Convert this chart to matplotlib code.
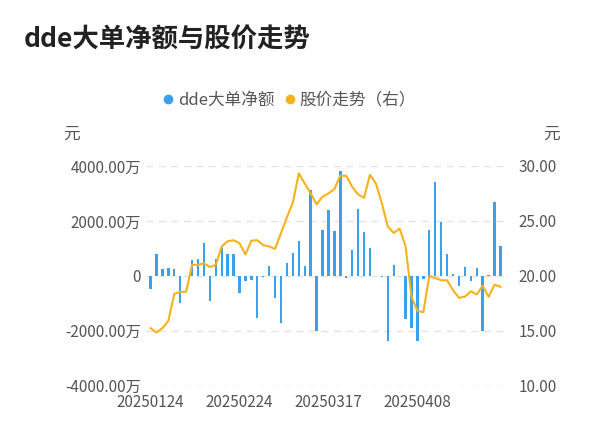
import matplotlib
matplotlib.use("Agg")
import matplotlib.pyplot as plt
from matplotlib.ticker import FixedLocator
from matplotlib.lines import Line2D

plt.rcParams['font.family'] = ['Noto Sans CJK SC', 'DejaVu Sans']

dde = [-480, 810, 240, 300, 240, -970, -20, 580, 630, 1210, -930, 600, 1000, 790, 800,
       -630, -200, -150, -1550, -30, 350, -810, -1700, 450, 820, 1260, 350, 3130, -2000, 1670,
       2390, 1640, 3820, -60, 950, 2450, 1580, 1030, -20, -40, -2360, 390, 0, -1580, -1910,
       -2360, -120, 1660, 3420, 1960, 800, 60, -360, 340, -200, 270, -2010, 40, 2690, 1090]
price = [15.24, 14.85, 15.24, 15.9, 18.36, 18.55, 18.55, 21.0, 21.0, 21.15, 20.8, 21.0, 22.67, 23.15, 23.24,
         22.97, 21.94, 23.2, 23.24, 22.8, 22.67, 22.45, 23.9, 25.33, 26.67, 29.33, 28.4, 27.5, 26.5, 27.2,
         27.5, 27.9, 29.1, 29.1, 28.1, 27.4, 27.1, 29.2, 28.4, 26.6, 24.5, 23.9, 24.3, 22.7, 18.1,
         16.8, 16.7, 20.0, 19.8, 19.6, 19.6, 18.7, 18.0, 18.1, 18.6, 18.3, 19.1, 18.1, 19.2, 19.0]
tick_idx = [0, 15, 30, 45]
tick_labels = ['20250124', '20250224', '20250317', '20250408']
left_ticks = [-4000, -2000, 0, 2000, 4000]
left_labels = ['-4000.00万', '-2000.00万', '0', '2000.00万', '4000.00万']
right_ticks = [10, 15, 20, 25, 30]

fig = plt.figure(figsize=(6, 4.46), dpi=100)
ax = fig.add_axes([0.243, 0.135, 0.598, 0.493])
x = list(range(len(dde)))
ax.bar(x, dde, width=0.4, color='#3ba1ec', zorder=3)
ax.set_ylim(-4000, 4000)
ax.set_xlim(-0.8, len(dde) - 0.3)
ax.yaxis.set_major_locator(FixedLocator(left_ticks))
ax.set_yticklabels(left_labels)
ax.set_xticks(tick_idx)
ax.set_xticklabels(tick_labels)
ax.grid(axis='y', linestyle=(0, (5, 4)), color='#e3e3e3', linewidth=1, zorder=0)
for s in ax.spines.values():
    s.set_visible(False)
ax.tick_params(length=0, labelsize=11, colors='#555555')
ax.tick_params(axis='x', pad=6)

ax2 = ax.twinx()
ax2.plot(x, price, color='#f5b21b', linewidth=1.5, zorder=4)
ax2.set_ylim(10, 30)
ax2.yaxis.set_major_locator(FixedLocator(right_ticks))
ax2.set_yticklabels([f'{v:.2f}' for v in right_ticks])
for s in ax2.spines.values():
    s.set_visible(False)
ax2.tick_params(length=0, labelsize=11, colors='#555555', pad=10)

fig.text(0.04, 0.893, 'dde大单净额与股价走势', fontsize=19, fontweight='bold', color='#222222')
fig.text(0.105, 0.69, '元', fontsize=12, color='#555555')
fig.text(0.905, 0.69, '元', fontsize=12, color='#555555')

h = [Line2D([], [], marker='o', linestyle='', color='#3ba1ec', markersize=6),
     Line2D([], [], marker='o', linestyle='', color='#f5b21b', markersize=6)]
fig.legend(h, ['dde大单净额', '股价走势（右）'], loc='center', bbox_to_anchor=(0.48, 0.775),
           ncol=2, frameon=False, fontsize=12, handletextpad=0.1, columnspacing=0.4,
           handlelength=1.0, labelcolor='#555555')
fig.savefig('out.png', dpi=100)
